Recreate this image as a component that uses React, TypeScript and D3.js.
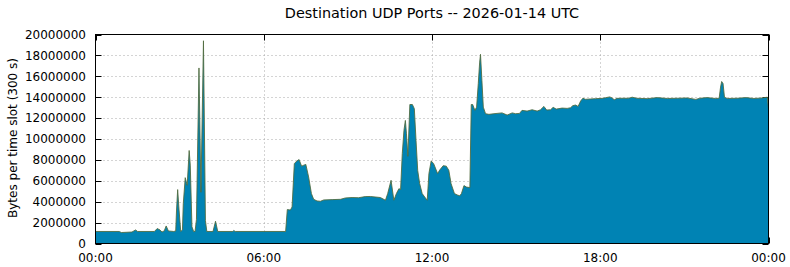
import React from "react";
import * as d3 from "d3";

// Time of day (hours) of each sampled point
const hours: number[] = [
  0.0, 0.85, 0.92, 1.3, 1.43, 1.5, 2.1, 2.2, 2.3, 2.37, 2.45, 2.52, 2.6, 2.79, 2.86, 2.89, 2.93, 2.98,
  3.04, 3.1, 3.13, 3.2, 3.27, 3.34, 3.38, 3.44, 3.5, 3.55, 3.6, 3.69, 3.76, 3.85, 3.92, 3.97,
  4.19, 4.28, 4.36, 4.9, 4.93, 4.98, 6.78, 6.84, 6.95, 7.01, 7.09, 7.18, 7.26, 7.35, 7.43, 7.5,
  7.6, 7.7, 7.78, 7.9, 8.02, 8.14, 8.44, 8.74, 8.91, 9.15, 9.38, 9.62, 9.8, 10.16, 10.34, 10.42,
  10.54, 10.64, 10.73, 10.82, 10.88, 10.94, 11.0, 11.05, 11.09, 11.14, 11.21, 11.3, 11.37, 11.43,
  11.49, 11.56, 11.65, 11.74, 11.83, 11.89, 11.97, 12.06, 12.2, 12.28, 12.4, 12.51, 12.6, 12.68,
  12.8, 12.9, 12.99, 13.05, 13.14, 13.23, 13.35, 13.4, 13.45, 13.53, 13.59, 13.65, 13.7, 13.73,
  13.78, 13.83, 13.91, 14.03, 14.21, 14.5, 14.68, 14.86, 14.98, 15.12, 15.21, 15.39, 15.57, 15.75,
  15.87, 15.99, 16.09, 16.23, 16.32, 16.43, 16.64, 16.82, 16.94, 17.02, 17.12, 17.21, 17.3, 17.38,
  17.47, 17.65, 17.83, 18.07, 18.19, 18.34, 18.42, 18.5, 18.6, 18.77, 19.01, 19.14, 19.3, 19.67,
  20.03, 20.4, 20.75, 21.1, 21.41, 21.55, 21.81, 22.11, 22.24, 22.29, 22.33, 22.38, 22.43, 22.53,
  22.88, 23.2, 23.48, 23.78, 23.96, 24.0,
];

// Bytes per time slot, in millions
const bytesMillions: number[] = [
  1.15, 1.15, 1.05, 1.1, 1.3, 1.15, 1.15, 1.43, 1.3, 1.1, 1.2, 1.68, 1.2, 1.15, 1.2, 3.2, 5.16, 3.2,
  1.15, 1.3, 3.8, 6.3, 5.57, 8.9, 7.5, 1.6, 1.15, 1.15, 2.3, 16.8, 4.9, 19.4, 2.2, 1.15,
  1.15, 2.13, 1.15, 1.15, 1.25, 1.15, 1.15, 3.25, 3.2, 3.5, 7.64, 7.9, 8.03, 7.4, 7.5, 7.57,
  6.37, 4.78, 4.23, 4.07, 4.04, 4.17, 4.2, 4.23, 4.36, 4.4, 4.38, 4.49, 4.5, 4.4, 4.14, 4.78,
  6.05, 4.14, 4.78, 5.25, 5.16, 8.6, 10.83, 11.78, 10.5, 8.34, 13.3, 13.3, 12.9, 9.87,
  7.0, 5.73, 4.78, 4.45, 4.14, 6.69, 7.9, 7.64, 6.69, 7.05, 7.45, 7.4, 7.0, 5.73,
  4.78, 4.65, 4.56, 4.78, 5.54, 5.4, 5.35, 13.3, 13.3, 12.74, 13.05, 15.3, 17.36, 18.1,
  15.6, 13.05, 12.42, 12.36, 12.42, 12.5, 12.29, 12.5, 12.42, 12.45, 12.74, 12.67, 12.8, 12.67,
  12.8, 13.12, 12.77, 12.8, 13.03, 12.86, 12.96, 12.93, 12.99, 13.19, 13.25, 13.12, 13.63, 13.9,
  13.8, 13.83, 13.86, 13.89, 13.95, 14.03, 13.93, 13.76, 13.89, 13.9, 13.9, 14.0, 13.9, 13.86,
  13.96, 13.88, 13.9, 13.93, 13.79, 13.9, 13.96, 13.88, 13.9, 14.97, 15.5, 15.3, 14.0, 13.88,
  13.9, 13.96, 13.88, 13.93, 14.0, 12.8,
];

const yTicks: number[] = [0, 2e6, 4e6, 6e6, 8e6, 10e6, 12e6, 14e6, 16e6, 18e6, 20e6];
const xTicks: number[] = [0, 6, 12, 18, 24];
const xTickLabels: string[] = ["00:00", "06:00", "12:00", "18:00", "00:00"];

const title = "Destination UDP Ports -- 2026-01-14 UTC";
const yLabel = "Bytes per time slot (300 s)";

export default function App() {
  const W = 790;
  const H = 267;
  const left = 95.5;
  const right = 768.5;
  const top = 34.5;
  const bottom = 243.5;

  const x = d3.scaleLinear().domain([0, 24]).range([left, right]);
  const y = d3.scaleLinear().domain([0, 20e6]).range([bottom, top]);

  const data = hours.map((h, i) => ({ h, v: bytesMillions[i] * 1e6 }));

  const area = d3
    .area<{ h: number; v: number }>()
    .x((d) => x(d.h))
    .y0(y(0))
    .y1((d) => y(d.v));
  const line = d3
    .line<{ h: number; v: number }>()
    .x((d) => x(d.h))
    .y((d) => y(d.v));

  const font = "'DejaVu Sans', sans-serif";
  const tickLen = 6;

  return (
    <svg
      width={W}
      height={H}
      style={{ position: "absolute", left: 0, top: 0, background: "#fff" }}
      fontFamily={font}
    >
      <rect x={0} y={0} width={W} height={H} fill="#fff" />
      {/* grid */}
      {yTicks.slice(1, -1).map((t) => (
        <line
          key={"gy" + t}
          x1={left}
          x2={right}
          y1={Math.round(y(t)) + 0.5}
          y2={Math.round(y(t)) + 0.5}
          stroke="#a8a8a8"
          strokeWidth={1}
          strokeDasharray="1,3"
        />
      ))}
      {xTicks.slice(1, -1).map((t) => (
        <line
          key={"gx" + t}
          x1={Math.round(x(t)) + 0.5}
          x2={Math.round(x(t)) + 0.5}
          y1={top}
          y2={bottom}
          stroke="#a8a8a8"
          strokeWidth={1}
          strokeDasharray="1,3"
        />
      ))}
      {/* ticks */}
      {yTicks.map((t) => (
        <g key={"ty" + t}>
          <line x1={left} x2={left + tickLen} y1={Math.round(y(t)) + 0.5} y2={Math.round(y(t)) + 0.5} stroke="#000" />
          <line x1={right - tickLen} x2={right} y1={Math.round(y(t)) + 0.5} y2={Math.round(y(t)) + 0.5} stroke="#000" />
        </g>
      ))}
      {xTicks.map((t) => (
        <g key={"tx" + t}>
          <line x1={Math.round(x(t)) + 0.5} x2={Math.round(x(t)) + 0.5} y1={top} y2={top + tickLen} stroke="#000" />
          <line x1={Math.round(x(t)) + 0.5} x2={Math.round(x(t)) + 0.5} y1={bottom - tickLen} y2={bottom} stroke="#000" />
        </g>
      ))}
      {/* data */}
      <path d={area(data) || ""} fill="#0083b4" />
      <path d={line(data) || ""} fill="none" stroke="#4f6a3c" strokeWidth={1} strokeOpacity={0.85} />
      {/* border */}
      <rect x={left} y={top} width={right - left} height={bottom - top} fill="none" stroke="#000" strokeWidth={1} />
      {/* y tick labels */}
      {yTicks.map((t) => (
        <text key={"ly" + t} x={86} y={y(t)} dy="0.36em" textAnchor="end" fontSize={12} fill="#000">
          {String(t)}
        </text>
      ))}
      {xTicks.map((t, i) => (
        <text key={"lx" + t + i} x={x(t)} y={262} textAnchor="middle" fontSize={12} fill="#000">
          {xTickLabels[i]}
        </text>
      ))}
      <text x={(left + right) / 2} y={17.5} textAnchor="middle" fontSize={14.4} fill="#000">
        {title}
      </text>
      <text
        transform={`translate(17,138) rotate(-90)`}
        textAnchor="middle"
        fontSize={12}
        fill="#000"
      >
        {yLabel}
      </text>
    </svg>
  );
}
